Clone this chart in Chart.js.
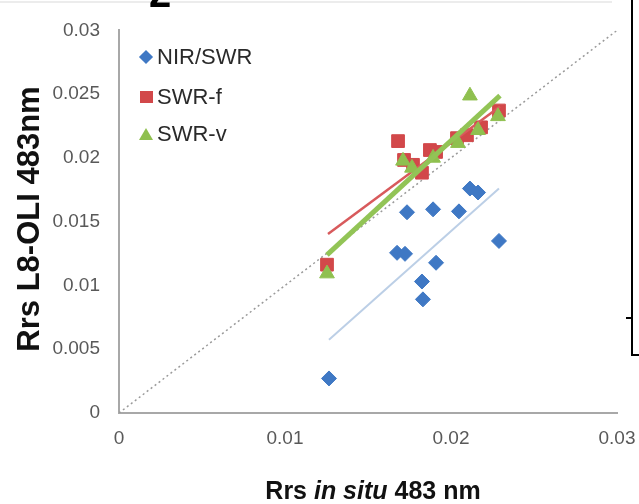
<!DOCTYPE html>
<html>
<head>
<meta charset="utf-8">
<script src="https://cdn.jsdelivr.net/npm/chart.js@4.4.1/dist/chart.umd.min.js"></script>
<style>
  html, body { margin: 0; padding: 0; background: #fff; }
  #wrap { position: relative; width: 639px; height: 504px; overflow: hidden; }
  #legend { position: absolute; left: 0; top: 0; font-family: "Liberation Sans", Arial, sans-serif; font-size: 22px; color: #2a2a2a; }
  .lg-item { position: absolute; left: 157px; white-space: nowrap; line-height: 22px; }
  .mk { position: absolute; }
  .mk-rectRot { width: 10px; height: 10px; transform: rotate(45deg); }
  .mk-rect { width: 13px; height: 12px; }
  .mk-triangle { width: 0; height: 0; border-left: 7px solid transparent; border-right: 7px solid transparent; border-bottom: 12px solid; }
</style>
</head>
<body>
<div id="wrap">
  <canvas id="chart" width="639" height="504"></canvas>
  <div id="legend"></div>
</div>
<script>
// tick labels
const xTickValues = [0, 0.01, 0.02, 0.03];
const xTickLabels = ['0', '0.01', '0.02', '0.03'];
const yTickValues = [0, 0.005, 0.01, 0.015, 0.02, 0.025, 0.03];
const yTickLabels = ['0', '0.005', '0.01', '0.015', '0.02', '0.025', '0.03'];

// series
const seriesNames = ['NIR/SWR', 'SWR-f', 'SWR-v'];
const seriesColors = ['#3f78c4', '#d2484a', '#8fc04f'];
const seriesStyles = ['rectRot', 'rect', 'triangle'];

const nirX = [0.01265, 0.01675, 0.01723, 0.01735, 0.01892, 0.02048, 0.0191, 0.01825, 0.01831, 0.02114, 0.02163, 0.02289];
const nirY = [0.00271, 0.01256, 0.01248, 0.01574, 0.01597, 0.01581, 0.01178, 0.01031, 0.00891, 0.0176, 0.01729, 0.01349];

const swrfX = [0.01253, 0.01681, 0.01717, 0.01771, 0.01825, 0.01873, 0.0191, 0.02036, 0.02096, 0.02181, 0.02289];
const swrfY = [0.01163, 0.02132, 0.01984, 0.01946, 0.01884, 0.02062, 0.02047, 0.02155, 0.02178, 0.0224, 0.02372];

const swrvX = [0.01253, 0.01711, 0.01765, 0.01892, 0.02042, 0.02114, 0.02163, 0.02283];
const swrvY = [0.01093, 0.01977, 0.01922, 0.02, 0.02116, 0.02488, 0.02217, 0.02326];

// linear fits (end points) and 1:1 line
const nirFitX = [0.01265, 0.02289];
const nirFitY = [0.00574, 0.0176];
const swrfFitX = [0.01259, 0.02295];
const swrfFitY = [0.01403, 0.02403];
const swrvFitX = [0.01253, 0.02295];
const swrvFitY = [0.0124, 0.02488];
const oneX = [0, 0.03];
const oneY = [0, 0.03];

const pts = (xs, ys) => xs.map((x, i) => ({ x: x, y: ys[i] }));
const FONT = '"Liberation Sans", Arial, sans-serif';

// html legend
const legend = document.getElementById('legend');
const legendTops = [57, 97, 134];
seriesNames.forEach((name, i) => {
    const mk = document.createElement('div');
    mk.className = 'mk mk-' + seriesStyles[i];
    const cy = legendTops[i];
    if (seriesStyles[i] === 'triangle') {
        mk.style.borderBottomColor = seriesColors[i];
        mk.style.left = '139px';
        mk.style.top = (cy - 6) + 'px';
    } else if (seriesStyles[i] === 'rect') {
        mk.style.background = seriesColors[i];
        mk.style.left = '140px';
        mk.style.top = (cy - 6) + 'px';
    } else {
        mk.style.background = seriesColors[i];
        mk.style.left = '141px';
        mk.style.top = (cy - 5) + 'px';
    }
    legend.appendChild(mk);
    const t = document.createElement('div');
    t.className = 'lg-item';
    t.style.top = (cy - 11) + 'px';
    t.textContent = name;
    legend.appendChild(t);
});

// titles and cropped neighbour panel
const extras = {
    id: 'extras',
    afterDraw(chart) {
        const ctx = chart.ctx;
        ctx.save();
        // y title
        ctx.fillStyle = '#111';
        ctx.font = 'bold 31px ' + FONT;
        ctx.textAlign = 'center';
        ctx.textBaseline = 'middle';
        ctx.translate(30, 219);
        ctx.rotate(-Math.PI / 2);
        ctx.fillText('Rrs L8-OLI 483nm', 0, 0);
        ctx.restore();

        // x title with italic part
        ctx.save();
        ctx.fillStyle = '#111';
        ctx.textBaseline = 'alphabetic';
        const parts = [['Rrs ', 'bold'], ['in situ', 'italic bold'], [' 483 nm', 'bold']];
        let total = 0;
        parts.forEach(p => { ctx.font = p[1] + ' 25px ' + FONT; total += ctx.measureText(p[0]).width; });
        let x = 373 - total / 2;
        parts.forEach(p => {
            ctx.font = p[1] + ' 25px ' + FONT;
            ctx.fillText(p[0], x, 499);
            x += ctx.measureText(p[0]).width;
        });
        ctx.restore();

        // edge of the neighbouring panel and the cut-off panel letter
        ctx.save();
        ctx.strokeStyle = '#000';
        ctx.lineWidth = 2;
        ctx.beginPath();
        ctx.moveTo(632, 0); ctx.lineTo(632, 355); ctx.lineTo(639, 355);
        ctx.moveTo(626, 318); ctx.lineTo(632, 318);
        ctx.stroke();
        ctx.strokeStyle = '#e6e6e6';
        ctx.lineWidth = 1.5;
        ctx.beginPath();
        ctx.moveTo(0, 2); ctx.lineTo(612, 2);
        ctx.stroke();
        ctx.fillStyle = '#000';
        ctx.font = 'bold 40px ' + FONT;
        ctx.textAlign = 'center';
        ctx.textBaseline = 'alphabetic';
        ctx.fillText('2', 160, 7);
        ctx.restore();
    }
};

new Chart(document.getElementById('chart'), {
    type: 'scatter',
    data: {
        datasets: [
            {
                label: '1:1',
                data: pts(oneX, oneY),
                showLine: true,
                borderColor: '#9a9a9a',
                borderWidth: 1.5,
                borderDash: [2, 3],
                pointRadius: 0,
                order: 10
            },
            {
                label: 'NIR/SWR fit',
                data: pts(nirFitX, nirFitY),
                showLine: true,
                borderColor: '#bccfe6',
                borderWidth: 2,
                pointRadius: 0,
                order: 9
            },
            {
                label: seriesNames[0],
                data: pts(nirX, nirY),
                pointStyle: seriesStyles[0],
                pointRadius: 7.5,
                backgroundColor: seriesColors[0],
                borderColor: seriesColors[0],
                borderWidth: 1,
                order: 8
            },
            {
                label: seriesNames[1],
                data: pts(swrfX, swrfY),
                pointStyle: seriesStyles[1],
                pointRadius: 9,
                backgroundColor: seriesColors[1],
                borderColor: seriesColors[1],
                borderWidth: 1,
                order: 6
            },
            {
                label: 'SWR-f fit',
                data: pts(swrfFitX, swrfFitY),
                showLine: true,
                borderColor: '#d85a5c',
                borderWidth: 2.5,
                pointRadius: 0,
                order: 5
            },
            {
                label: seriesNames[2],
                data: pts(swrvX, swrvY),
                pointStyle: seriesStyles[2],
                pointRadius: 8.5,
                backgroundColor: seriesColors[2],
                borderColor: seriesColors[2],
                borderWidth: 1,
                order: 4
            },
            {
                label: 'SWR-v fit',
                data: pts(swrvFitX, swrvFitY),
                showLine: true,
                borderColor: '#92c456',
                borderWidth: 5,
                pointRadius: 0,
                order: 3
            }
        ]
    },
    options: {
        responsive: false,
        animation: false,
        layout: {
            padding: { top: 24, right: 22, left: 0, bottom: 0 }
        },
        plugins: {
            legend: { display: false },
            tooltip: { enabled: false }
        },
        scales: {
            x: {
                type: 'linear',
                min: 0,
                max: 0.03,
                afterFit: s => { s.height = 91; s.paddingLeft = 0; s.paddingRight = 0; },
                afterBuildTicks: s => { s.ticks = xTickValues.map(v => ({ value: v })); },
                grid: { display: false, drawTicks: false },
                border: { display: true, color: '#a8a8a8', width: 2 },
                ticks: {
                    padding: 14,
                    color: '#595959',
                    font: { family: FONT, size: 19 },
                    callback: (v, i) => xTickLabels[i]
                }
            },
            y: {
                type: 'linear',
                min: 0,
                max: 0.03,
                afterFit: s => { s.width = 119; },
                afterBuildTicks: s => { s.ticks = yTickValues.map(v => ({ value: v })); },
                grid: { display: false, drawTicks: false },
                border: { display: true, color: '#a8a8a8', width: 2 },
                ticks: {
                    padding: 19,
                    color: '#595959',
                    font: { family: FONT, size: 19 },
                    callback: (v, i) => yTickLabels[i]
                }
            }
        }
    },
    plugins: [extras]
});
</script>
</body>
</html>
